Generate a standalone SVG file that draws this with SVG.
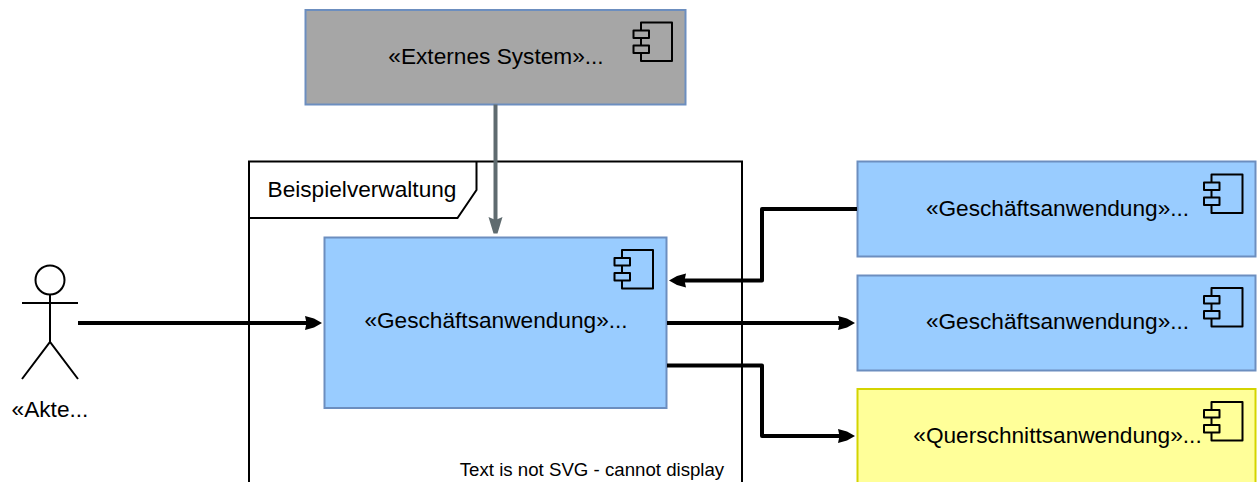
<svg xmlns="http://www.w3.org/2000/svg" width="1259" height="482" viewBox="0 0 1259 482">
<style>
text{font-family:"Liberation Sans",Arial,sans-serif;font-size:22.670px;fill:#000;text-anchor:middle}
.blue{fill:#99ccff;stroke:#6c8ebf;stroke-width:2}
.grey{fill:#a6a6a6;stroke:#6c8ebf;stroke-width:2}
.yellow{fill:#ffff99;stroke:#d4d400;stroke-width:2}
.ln{fill:none;stroke:#000;stroke-width:2}
.ic{fill:none;stroke:#000;stroke-width:2;stroke-linejoin:round}
.con{fill:none;stroke:#000;stroke-width:4;stroke-linejoin:round}
.hd{fill:#000}
</style>
<defs>
<g id="icon">
<path class="ic" d="M7.500 8V0H38.500V38.500H7.500V30.500"/>
<rect class="ic" x="0" y="8" width="15.500" height="7.500"/>
<rect class="ic" x="0" y="23" width="15.500" height="7.500"/>
<path class="ic" d="M7.500 15.500V23"/>
</g>
<path id="head" class="hd" d="M0 0L-8 -4.500L-17 -7L-15.500 0L-17 7L-8 4.500Z"/>
</defs>
<g id="frame">
<path class="ln" d="M249 482V161.500H742V482"/>
<path class="ln" d="M249 218H457.500L476.500 190V161.500"/>
<text x="362" y="197">Beispielverwaltung</text>
<text x="592" y="476" style="font-size:18.670px">Text is not SVG - cannot display</text>
</g>
<g id="extern">
<rect class="grey" x="305.500" y="10" width="380" height="94.500"/>
<use href="#icon" x="633.500" y="22.500"/>
<text x="496" y="64">«Externes System»...</text>
</g>
<g id="main">
<rect class="blue" x="324.500" y="237.500" width="342" height="170.500"/>
<use href="#icon" x="614.500" y="250"/>
<text x="496" y="328">«Geschäftsanwendung»...</text>
</g>
<g id="app1">
<rect class="blue" x="857.500" y="161.500" width="398" height="95"/>
<use href="#icon" x="1204" y="174.500"/>
<text x="1057.500" y="216">«Geschäftsanwendung»...</text>
</g>
<g id="app2">
<rect class="blue" x="857.500" y="275.500" width="398" height="95"/>
<use href="#icon" x="1204" y="288"/>
<text x="1057.500" y="329">«Geschäftsanwendung»...</text>
</g>
<g id="quer">
<rect class="yellow" x="857.500" y="389" width="398" height="95"/>
<use href="#icon" x="1204" y="402"/>
<text x="1057.500" y="443">«Querschnittsanwendung»...</text>
</g>
<g id="actor">
<circle class="ln" cx="50" cy="280" r="14.500"/>
<path class="ln" d="M50 294.500V342M22 303H78M22 379L50 342L78 379"/>
<text x="50" y="417">«Akte...</text>
</g>
<g id="connectors">
<path d="M495.500 104.500V220" fill="none" stroke="#5f6b6f" stroke-width="4"/>
<path d="M488.500 217L495.500 220L502.500 217L497.500 233.500H493.500Z" fill="#5f6b6f"/>
<path class="con" d="M78 323H308"/>
<use href="#head" transform="translate(322 323)"/>
<path class="con" d="M857 209H762V280.500H684"/>
<use href="#head" transform="translate(669 280.500) rotate(180)"/>
<path class="con" d="M667 323H840"/>
<use href="#head" transform="translate(855 323)"/>
<path class="con" d="M667 365.500H762V436H840"/>
<use href="#head" transform="translate(855 436)"/>
</g>
</svg>
